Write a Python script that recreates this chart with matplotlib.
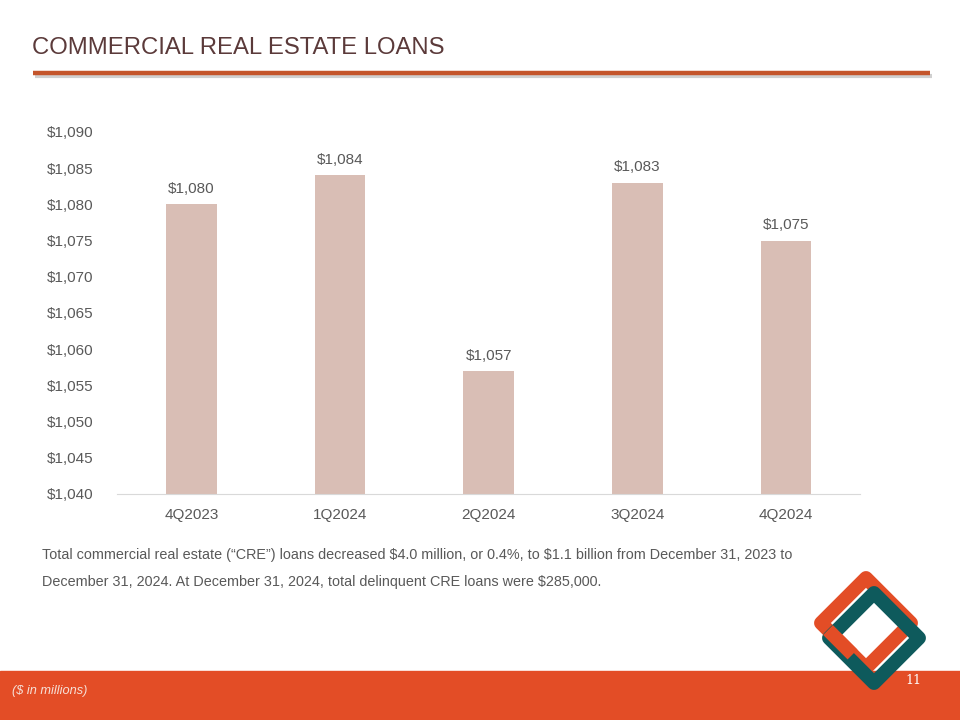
import numpy as np
import matplotlib.pyplot as plt
from matplotlib.patches import Rectangle, Polygon

quarters = ['4Q2023', '1Q2024', '2Q2024', '3Q2024', '4Q2024']
cre_loans = [1080, 1084, 1057, 1083, 1075]
y_ticks = list(range(1040, 1091, 5))

title = 'COMMERCIAL REAL ESTATE LOANS'
note_lines = ['Total commercial real estate (\u201cCRE\u201d) loans decreased $4.0 million, or 0.4%, to $1.1 billion from December 31, 2023 to',
              'December 31, 2024. At December 31, 2024, total delinquent CRE loans were $285,000.']

plt.rcParams['font.family'] = ['Liberation Sans', 'DejaVu Sans']
plt.rcParams['text.parse_math'] = False

fig = plt.figure(figsize=(9.6, 7.2), dpi=100)

# background layer in pixel coordinates
bg = fig.add_axes([0, 0, 1, 1])
bg.set_xlim(0, 960)
bg.set_ylim(720, 0)
bg.axis('off')

bg.text(32, 48, title, fontsize=17.2, color='#5B3A3A', va='center', ha='left')
bg.plot([35, 932], [75.5, 75.5], color='#BDBDBD', lw=3, alpha=0.7, solid_capstyle='butt')
bg.plot([33, 930], [72.5, 72.5], color='#C4552B', lw=3.2, solid_capstyle='butt')

bg.add_patch(Rectangle((0, 671), 960, 49, color='#E34D26', zorder=1))
bg.text(12, 691, '($ in millions)', fontsize=9.2, color='#F6E1D8', style='italic', va='center')
bg.text(913, 680, '11', fontsize=9, color='white', family='DejaVu Serif', va='center', ha='center', zorder=5)

# logo: two interlinked diamonds
def diamond(cx, cy, r):
    return [(cx, cy - r), (cx + r, cy), (cx, cy + r), (cx - r, cy)]

ring_lw = 10
orange_pts = diamond(866, 623, 45)
teal_pts = diamond(874, 638, 45)
bg.add_patch(Polygon(orange_pts, closed=True, fill=False, ec='#E34D26', lw=ring_lw, joinstyle='round', zorder=3))
bg.add_patch(Polygon(teal_pts, closed=True, fill=False, ec='#0E5A5C', lw=ring_lw, joinstyle='round', zorder=4))
# orange lower-left edge passes over the teal ring
lx, ly = orange_pts[3]
bx, by = orange_pts[2]
bg.plot([lx + 7, lx + 0.7 * (bx - lx)], [ly + 7, ly + 0.7 * (by - ly)],
        color='#E34D26', lw=ring_lw, solid_capstyle='butt', zorder=4.5)

for i, line in enumerate(note_lines):
    bg.text(42, 555 + 27 * i, line, fontsize=10.4, color='#595959', va='center', ha='left')

# chart
ax = fig.add_axes([0.122, 0.3139, 0.774, 0.5028])
x = np.arange(len(quarters))
ax.bar(x, cre_loans, width=0.34, color='#D9BEB5')
ax.set_ylim(1040, 1090)
ax.set_xlim(-0.5, len(quarters) - 0.5)
ax.set_yticks(y_ticks)
ax.set_yticklabels(['${:,}'.format(v) for v in y_ticks])
ax.set_xticks(x)
ax.set_xticklabels(quarters)
ax.tick_params(length=0, labelsize=11, labelcolor='#595959')
ax.tick_params(axis='x', pad=10)
ax.tick_params(axis='y', pad=17)
for s in ['top', 'right', 'left']:
    ax.spines[s].set_visible(False)
ax.spines['bottom'].set_color('#D9D9D9')
ax.patch.set_alpha(0)

for xi, v in zip(x, cre_loans):
    ax.annotate('${:,}'.format(v), (xi, v), xytext=(0, 6), textcoords='offset points',
                ha='center', va='bottom', fontsize=11, color='#595959')

fig.savefig('out.png', dpi=100)
